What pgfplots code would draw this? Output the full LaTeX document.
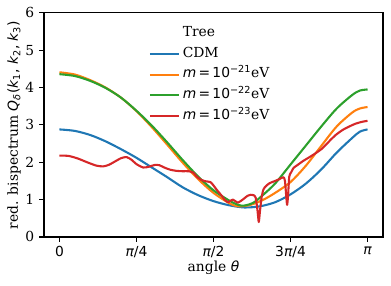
\documentclass[border=0pt]{standalone}
\usepackage{fontspec}
\setmainfont{DejaVu Serif}
\newfontfamily\dvs{DejaVu Sans}
\usepackage{pgfplots}
\pgfplotsset{compat=1.18}
\definecolor{tabblue}{HTML}{1F77B4}
\definecolor{taborange}{HTML}{FF7F0E}
\definecolor{tabgreen}{HTML}{2CA02C}
\definecolor{tabred}{HTML}{D62728}
\newcommand{\mi}[1]{{\dvs\itshape #1}}
\newcommand{\mr}[1]{{\dvs #1}}
\begin{document}
\begin{tikzpicture}
\useasboundingbox (-31.7bp,-35.3bp) rectangle (249.8bp,170.6bp);
\begin{axis}[
  at={(0,0)}, anchor=south west,
  scale only axis, width=244bp, height=161.3bp,
  xmin=-0.05, xmax=1.05, ymin=0, ymax=6,
  xtick={0,0.25,0.5,0.75,1},
  xticklabels={{\mr{0}},{\mi{π}\mr{/4}},{\mi{π}\mr{/2}},{\mr{3}\mi{π}\mr{/4}},{\mi{π}}},
  ytick={0,1,2,3,4,5,6},
  yticklabels={0,1,2,3,4,5,6},
  tick align=outside, xtick pos=left, ytick pos=left,
  major tick length=3.5bp,
  every tick/.style={black, line width=0.8bp},
  axis line style={line width=0.8bp},
  font=\fontsize{10}{12}\selectfont,
  xlabel={angle \mi{θ}},
  ylabel={red. bispectrum \mi{Q}\textsubscript{\mi{δ}}\mr{(}\mi{k}\textsubscript{\mr{1}}\mr{, }\mi{k}\textsubscript{\mr{2}}\mr{, }\mi{k}\textsubscript{\mr{3}}\mr{)}},
  xlabel style={at={(axis description cs:0.5,0)}, anchor=center, yshift=-22.3bp},
  ylabel style={at={(axis description cs:-0.0885,0.5)}, anchor=center},
  legend cell align=left,
  legend style={draw=none, fill=none, at={(axis description cs:0.296,0.967)}, anchor=north west,
    font=\fontsize{10}{12}\selectfont,
    row sep=1.2bp,
    nodes={inner sep=2bp, text height=7.3bp, text depth=2.5bp}},
  legend image code/.code={\draw[#1] (0bp,0bp) -- (21bp,0bp);},
]
\addlegendimage{draw opacity=0}
\addlegendentry{Tree}
\addplot[tabblue, line width=1.5bp, smooth, line join=round] coordinates {
(0,2.88) (0.05,2.84) (0.10,2.73) (0.15,2.56) (0.20,2.35) (0.25,2.12) (0.30,1.86)
(0.35,1.60) (0.40,1.33) (0.45,1.12) (0.50,0.96) (0.55,0.85) (0.60,0.79) (0.65,0.82)
(0.70,0.93) (0.75,1.14) (0.80,1.43) (0.85,1.81) (0.90,2.26) (0.95,2.65) (0.975,2.82) (1.0,2.88)
};
\addlegendentry{CDM}
\addplot[taborange, line width=1.5bp, smooth, line join=round] coordinates {
(0,4.41) (0.05,4.35) (0.10,4.20) (0.15,4.00) (0.20,3.73) (0.25,3.37) (0.30,2.94)
(0.35,2.47) (0.40,1.99) (0.45,1.55) (0.50,1.18) (0.55,0.91) (0.58,0.82) (0.62,0.86)
(0.66,0.99) (0.70,1.18) (0.75,1.47) (0.80,1.91) (0.85,2.44) (0.90,2.96) (0.95,3.33)
(0.975,3.44) (1.0,3.48)
};
\addlegendentry{\mi{m}\mr{\,=\,10\textsuperscript{−21}}eV}
\addplot[tabgreen, line width=1.5bp, smooth, line join=round] coordinates {
(0,4.36) (0.05,4.31) (0.10,4.18) (0.15,3.99) (0.20,3.73) (0.25,3.38) (0.30,2.98)
(0.35,2.53) (0.40,2.06) (0.45,1.62) (0.50,1.25) (0.55,0.98) (0.58,0.86) (0.60,0.84)
(0.63,0.92) (0.66,1.12) (0.70,1.43) (0.75,1.94) (0.80,2.45) (0.85,2.96) (0.90,3.44)
(0.95,3.80) (0.975,3.92) (1.0,3.95)
};
\addlegendentry{\mi{m}\mr{\,=\,10\textsuperscript{−22}}eV}
\addplot[tabred, line width=1.5bp, smooth, tension=0.4, line join=round] coordinates {
(0,2.18) (0.03,2.17) (0.06,2.10) (0.09,2.00) (0.12,1.91) (0.142,1.89) (0.16,1.93)
(0.18,2.02) (0.20,2.11) (0.218,2.14) (0.235,2.06) (0.25,1.95) (0.272,1.86) (0.29,1.88)
(0.31,1.93) (0.325,1.92) (0.34,1.86) (0.36,1.80) (0.38,1.77) (0.40,1.76) (0.42,1.76)
(0.435,1.72) (0.445,1.62) (0.46,1.53) (0.475,1.49) (0.49,1.47) (0.50,1.38) (0.51,1.27)
(0.525,1.12) (0.536,1.00) (0.547,0.93) (0.555,0.97) (0.563,1.00) (0.572,0.95) (0.579,0.92)
(0.588,0.96) (0.598,1.02) (0.61,1.10) (0.62,1.13) (0.63,1.12) (0.637,1.05) (0.643,0.70)
(0.647,0.40) (0.651,0.70) (0.656,1.05) (0.662,1.27) (0.67,1.36) (0.682,1.44) (0.70,1.50)
(0.714,1.55) (0.727,1.60) (0.732,1.50) (0.736,1.10) (0.739,0.86) (0.742,1.10) (0.746,1.62)
(0.752,1.73) (0.76,1.85) (0.775,1.94) (0.79,2.03) (0.81,2.13) (0.833,2.25) (0.85,2.35)
(0.865,2.47) (0.88,2.60) (0.898,2.74) (0.92,2.87) (0.941,2.96) (0.96,3.03) (0.98,3.08) (1.0,3.11)
};
\addlegendentry{\mi{m}\mr{\,=\,10\textsuperscript{−23}}eV}
\end{axis}
\end{tikzpicture}
\end{document}
